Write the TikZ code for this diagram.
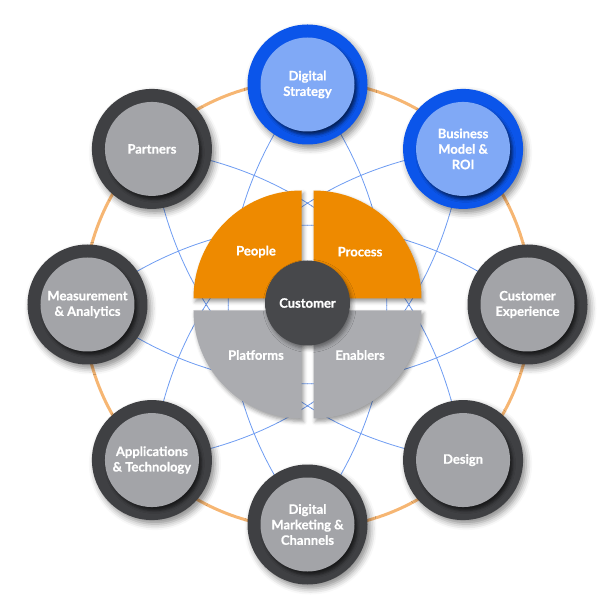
\documentclass[tikz,border=0pt]{standalone}
\usepackage{fontspec}
\setmainfont{Lato}[BoldFeatures={FakeBold=0.7}]
\usetikzlibrary{shadows.blur}
\pgfdeclarelayer{bg}
\pgfsetlayers{bg,main}
\definecolor{bluering}{HTML}{0B55EA}
\definecolor{bluein}{HTML}{80A9F6}
\definecolor{darkring}{HTML}{3F4043}
\definecolor{grayin}{HTML}{A3A4A8}
\definecolor{orangeS}{HTML}{EE8A00}
\definecolor{grayS}{HTML}{ABACB0}
\definecolor{custc}{HTML}{47484B}
\definecolor{lineblue}{HTML}{6E9CF2}
\definecolor{ringorange}{HTML}{F6B673}
\begin{document}
\begin{tikzpicture}[x=1pt,y=1pt,
  lbl/.style={text=white,font=\bfseries\fontsize{13}{15.5}\selectfont,align=center},
  ringc/.style={circle,minimum size=120pt,inner sep=0pt,outer sep=0pt,fill=#1,
    blur shadow={shadow xshift=3pt,shadow yshift=-4pt,shadow blur radius=6pt,shadow opacity=45}},
  disc/.style={circle,minimum size=94pt,inner sep=0pt,outer sep=0pt,fill=#1,lbl,
    blur shadow={shadow xshift=2.5pt,shadow yshift=-3.5pt,shadow blur radius=3pt,shadow opacity=60}},
  sector/.style={fill=#1,blur shadow={shadow xshift=2pt,shadow yshift=-3pt,shadow blur radius=4pt,shadow opacity=40}},
  link/.style={draw=lineblue,line width=0.8pt},
  orbit/.style={draw=ringorange,line width=3pt},
]
\useasboundingbox (-307.5,-307.5) rectangle (304.5,304.5);
\coordinate (o) at (0,0);

% central quarters
\fill[sector=orangeS] (-6,6) -- (-6,114) arc[start angle=90,end angle=180,radius=108] -- cycle;
\fill[sector=orangeS] (6,6) -- (114,6) arc[start angle=0,end angle=90,radius=108] -- cycle;
\fill[sector=grayS] (-6,-6) -- (-114,-6) arc[start angle=180,end angle=270,radius=108] -- cycle;
\fill[sector=grayS] (6,-6) -- (6,-114) arc[start angle=270,end angle=360,radius=108] -- cycle;
\node[lbl] (people) at (-51.5,52.8) {People};
\node[lbl] (process) at (52.5,52.8) {Process};
\node[lbl] (platforms) at (-51.5,-50.5) {Platforms};
\node[lbl] (enablers) at (52.5,-50.5) {Enablers};
\node[circle,minimum size=85pt,inner sep=0pt,fill=custc,lbl,
  blur shadow={shadow xshift=2pt,shadow yshift=-3pt,shadow blur radius=4pt,shadow opacity=45}] (cust) at (0,1.5) {Customer};

% outer circles
\node[ringc=bluering] (n0) at (90:220) {};
\node[disc=bluein] (t0) at (n0) {Digital\\Strategy};
\node[ringc=bluering] (n1) at (45:220) {};
\node[disc=bluein] (t1) at (n1) {Business\\Model \&\\ROI};
\node[ringc=darkring] (n2) at (0:220) {};
\node[disc=grayin] (t2) at (n2) {Customer\\Experience};
\node[ringc=darkring] (n3) at (-45:220) {};
\node[disc=grayin] (t3) at (n3) {Design};
\node[ringc=darkring] (n4) at (-90:220) {};
\node[disc=grayin] (t4) at (n4) {Digital\\Marketing \&\\Channels};
\node[ringc=darkring] (n5) at (-135:220) {};
\node[disc=grayin] (t5) at (n5) {Applications\\\& Technology};
\node[ringc=darkring] (n6) at (180:220) {};
\node[disc=grayin] (t6) at (n6) {Measurement\\\& Analytics};
\node[ringc=darkring] (n7) at (135:220) {};
\node[disc=grayin] (t7) at (n7) {Partners};

\begin{pgfonlayer}{bg}
\draw[orbit] (o) circle[radius=224];
\foreach \a/\b in {0/4,1/5,2/6,3/7}{
  \draw[link] (n\a.center) to[bend left=38] (n\b.center);
  \draw[link] (n\a.center) to[bend right=38] (n\b.center);
}
\end{pgfonlayer}
\end{tikzpicture}
\end{document}
